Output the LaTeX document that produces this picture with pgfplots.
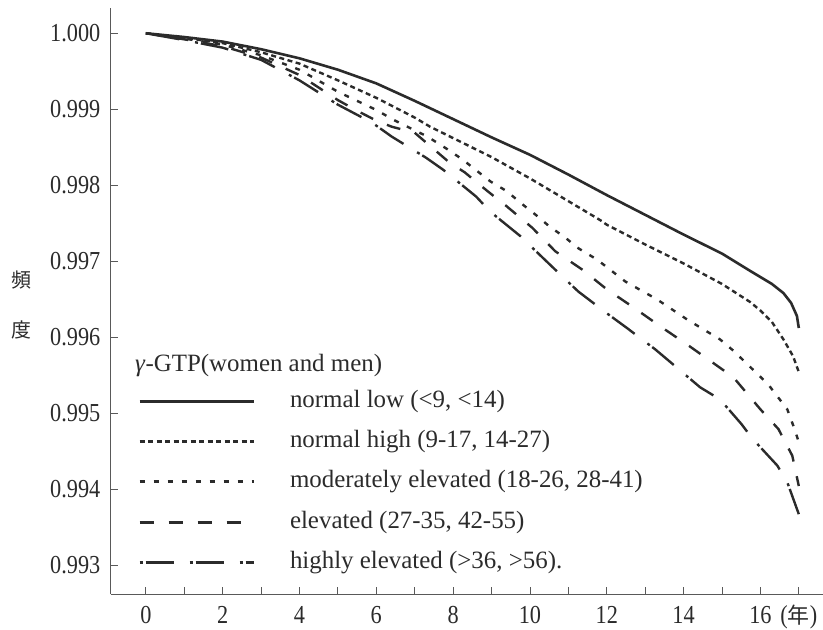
\documentclass[border=0pt]{standalone}
\usepackage{fontspec}
\setmainfont{Liberation Serif}
\newfontfamily\tickfont{Liberation Serif}[FakeStretch=0.86]
\newfontfamily\cjk{Noto Sans CJK JP}
\usepackage{pgfplots}
\pgfplotsset{compat=1.18}
\definecolor{ink}{HTML}{2B2B2B}
\begin{document}
\begin{tikzpicture}
\begin{axis}[
  scale only axis, width=712.5bp, height=586bp,
  xmin=-0.92, xmax=17.63, ymin=0.992619, ymax=1.000332,
  axis x line*=bottom, axis y line*=left,
  axis line style={draw=black!65, line width=0.8bp},
  tick align=inside, major tick length=7.5bp,
  tick style={draw=black!65, line width=0.8bp},
  xtick={0,1,2,3,4,5,6,7,8,9,10,11,12,13,14,15,16,17},
  xticklabels={0,,2,,4,,6,,8,,10,,12,,14,,16,{({\cjk\fontsize{22}{22}\selectfont 年})}},
  ytick={0.993,0.994,0.995,0.996,0.997,0.998,0.999,1.000},
  yticklabels={0.993,0.994,0.995,0.996,0.997,0.998,0.999,1.000},
  xticklabel style={font=\tickfont\fontsize{26}{26}\selectfont, anchor=base, yshift=-29bp, text=ink},
  yticklabel style={font=\tickfont\fontsize{26}{26}\selectfont, anchor=east, inner sep=0pt, xshift=-10bp, text=ink},
  ylabel={頻\\度},
  ylabel style={rotate=-90, align=center, font=\cjk\fontsize{20}{50}\selectfont, at={(axis description cs:-0.1248,0.493)}, anchor=center, text=ink},
  legend style={draw=none, fill=none, at={(axis description cs:0.0386,0.3498)}, anchor=north west,
    inner sep=0pt, outer sep=0pt, row sep=16.4bp,
    nodes={inner sep=0pt, text height=18bp, text depth=6bp, font=\fontsize{25}{25}\selectfont, text=ink},
    /tikz/every odd column/.append style={column sep=35bp}},
  legend cell align=left,
  legend image code/.code={\draw[#1, line width=3bp] (0bp,0bp) -- (114bp,0bp);},
]
\addplot[ink, line width=2.6bp] coordinates {
(0,1.0000) (1,0.99995) (2,0.99989) (3,0.99979) (4,0.99967) (5,0.99952) (6,0.99934) (7,0.99911)
(8,0.99887) (9,0.99863) (10,0.99840) (11,0.99814) (12,0.99787) (13,0.99761) (14,0.99735)
(15,0.99710) (15.74,0.99687) (16.3,0.99670) (16.6,0.99658) (16.8,0.99645) (16.95,0.99628) (17,0.99612)};
\addlegendentry{normal low (<9, <14)}
\addplot[ink, line width=2.4bp, dash pattern=on 5bp off 3.5bp] coordinates {
(0,1.0000) (1,0.99994) (2,0.99987) (3,0.99975) (4,0.99960) (5,0.99938) (6,0.99915) (7,0.99889)
(7.4,0.99877) (8,0.99862) (9,0.99837) (10,0.99809) (11,0.99779) (11.83,0.99754) (12,0.99748)
(13,0.99722) (14,0.99697) (15,0.99670) (15.74,0.99646) (16,0.99635) (16.3,0.99620) (16.6,0.99597)
(16.85,0.99575) (17,0.99554)};
\addlegendentry{normal high (9-17, 14-27)}
\addplot[ink, line width=2.4bp, dash pattern=on 5bp off 9bp] coordinates {
(0,1.0000) (1,0.99993) (2,0.99985) (3,0.99971) (4,0.99952) (5,0.99923) (6,0.99899) (6.45,0.99886)
(7.33,0.99864) (7.8,0.99849) (8.24,0.99834) (8.97,0.99805) (9.4,0.99792) (9.8,0.99775) (10.2,0.99759)
(10.5,0.99746) (10.92,0.99731) (11.26,0.99717) (11.75,0.99702) (12.49,0.99673) (13.3,0.99650)
(14.1,0.99623) (14.95,0.99597) (15.3,0.99582) (16.2,0.99538) (16.7,0.99505) (16.86,0.99483) (17,0.99462)};
\addlegendentry{moderately elevated (18-26, 28-41)}
\addplot[ink, line width=2.4bp, dash pattern=on 14bp off 15bp] coordinates {
(0,1.0000) (1,0.99992) (2,0.99983) (3,0.99968) (4,0.99945) (5,0.99912) (5.5,0.99898) (6,0.99885)
(6.4,0.99877) (7,0.99869) (7.9,0.99830) (8.3,0.99817) (8.9,0.99792) (9.4,0.99772) (10.06,0.99744)
(10.66,0.99713) (11.36,0.99689) (12,0.99663) (12.7,0.99639) (13.4,0.99614) (14.1,0.99590)
(14.8,0.99565) (15.3,0.99547) (16,0.99505) (16.47,0.99479) (16.83,0.99444) (17,0.99404)};
\addlegendentry{elevated (27-35, 42-55)}
\addplot[ink, line width=2.4bp, dash pattern=on 3bp off 3bp on 28bp off 16bp] coordinates {
(0,1.0000) (1,0.99991) (2,0.99981) (3,0.99965) (4,0.99938) (5,0.99906) (5.9,0.99882) (6.4,0.99864)
(7.3,0.99836) (7.75,0.99820) (8.6,0.99785) (8.97,0.99765) (9.75,0.99733) (10.2,0.99711)
(10.84,0.99680) (11.26,0.99660) (12.04,0.99630) (12.5,0.99613) (13.26,0.99584) (13.66,0.99567)
(14.43,0.99534) (14.95,0.99518) (15.5,0.99486) (15.8,0.99466) (16.44,0.99431) (16.7,0.99409) (17,0.99367)};
\addlegendentry{highly elevated (>36, >56).}
\node[anchor=base west, inner sep=0pt, font=\fontsize{25}{25}\selectfont, text=ink]
  at (axis description cs:0.0344,0.3794) {\textit{γ}-GTP(women and men)};
\coordinate (bbsw) at (axis description cs:-0.1551,-0.0597);
\coordinate (bbne) at (axis description cs:1,1.0137);
\end{axis}
\pgfresetboundingbox
\useasboundingbox (bbsw) rectangle (bbne);
\end{tikzpicture}
\end{document}
